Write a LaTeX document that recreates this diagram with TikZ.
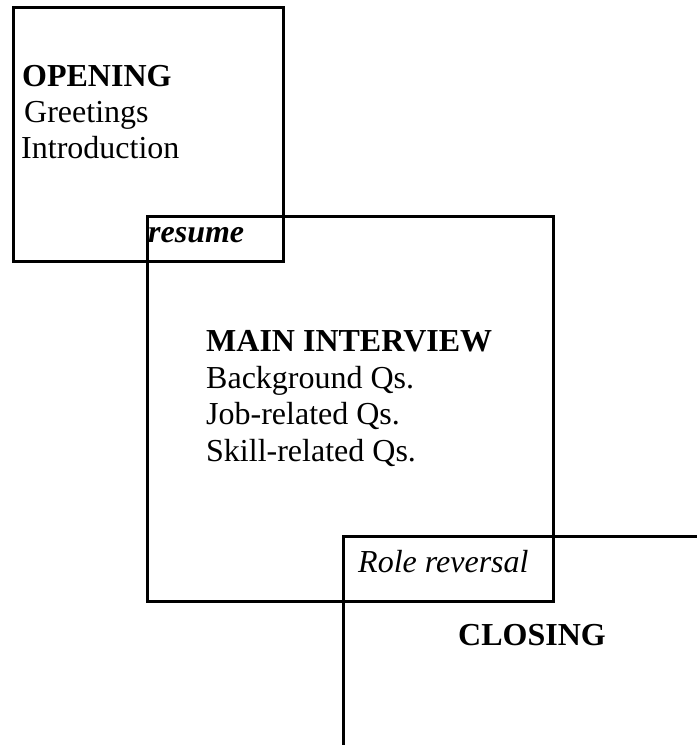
\documentclass[tikz,border=0pt]{standalone}
\usepackage{fontspec}
\setmainfont{Liberation Serif}
\usetikzlibrary{positioning}

\begin{document}
\begin{tikzpicture}[
            x=1bp,
            y=-1bp,
            font=\fontsize{32bp}{37bp}\selectfont
        ]
        \tikzstyle{phase}=[draw=black, line width=3bp]
        \tikzstyle{every node}=[anchor=base west, inner sep=0pt, text=black]

        \useasboundingbox (0,0) rectangle (697,745);
        \clip (0,0) rectangle (697,745);

        % the three overlapping phases
        \draw[phase] (13,8) rectangle (283,261);
        \draw[phase] (147,216) rectangle (553,601);
        \draw[phase] (343,536) rectangle (730,790);

        \node (open) at (22,86) {\textbf{OPENING}};
        \node (greet) at (24,122) {Greetings};
        \node (intro) at (21,158) {Introduction};

        \node (resume) at (148,242) {\bfseries\itshape resume};

        \node (main) at (206,351) {\textbf{MAIN INTERVIEW}};
        \node (bgq) at (206,388) {Background Qs.};
        \node (jobq) at (206,424) {Job-related Qs.};
        \node (skillq) at (206,461) {Skill-related Qs.};

        \node (role) at (358,572) {\itshape Role reversal};

        \node (closing) at (458,645) {\textbf{CLOSING}};
    \end{tikzpicture}
\end{document}
